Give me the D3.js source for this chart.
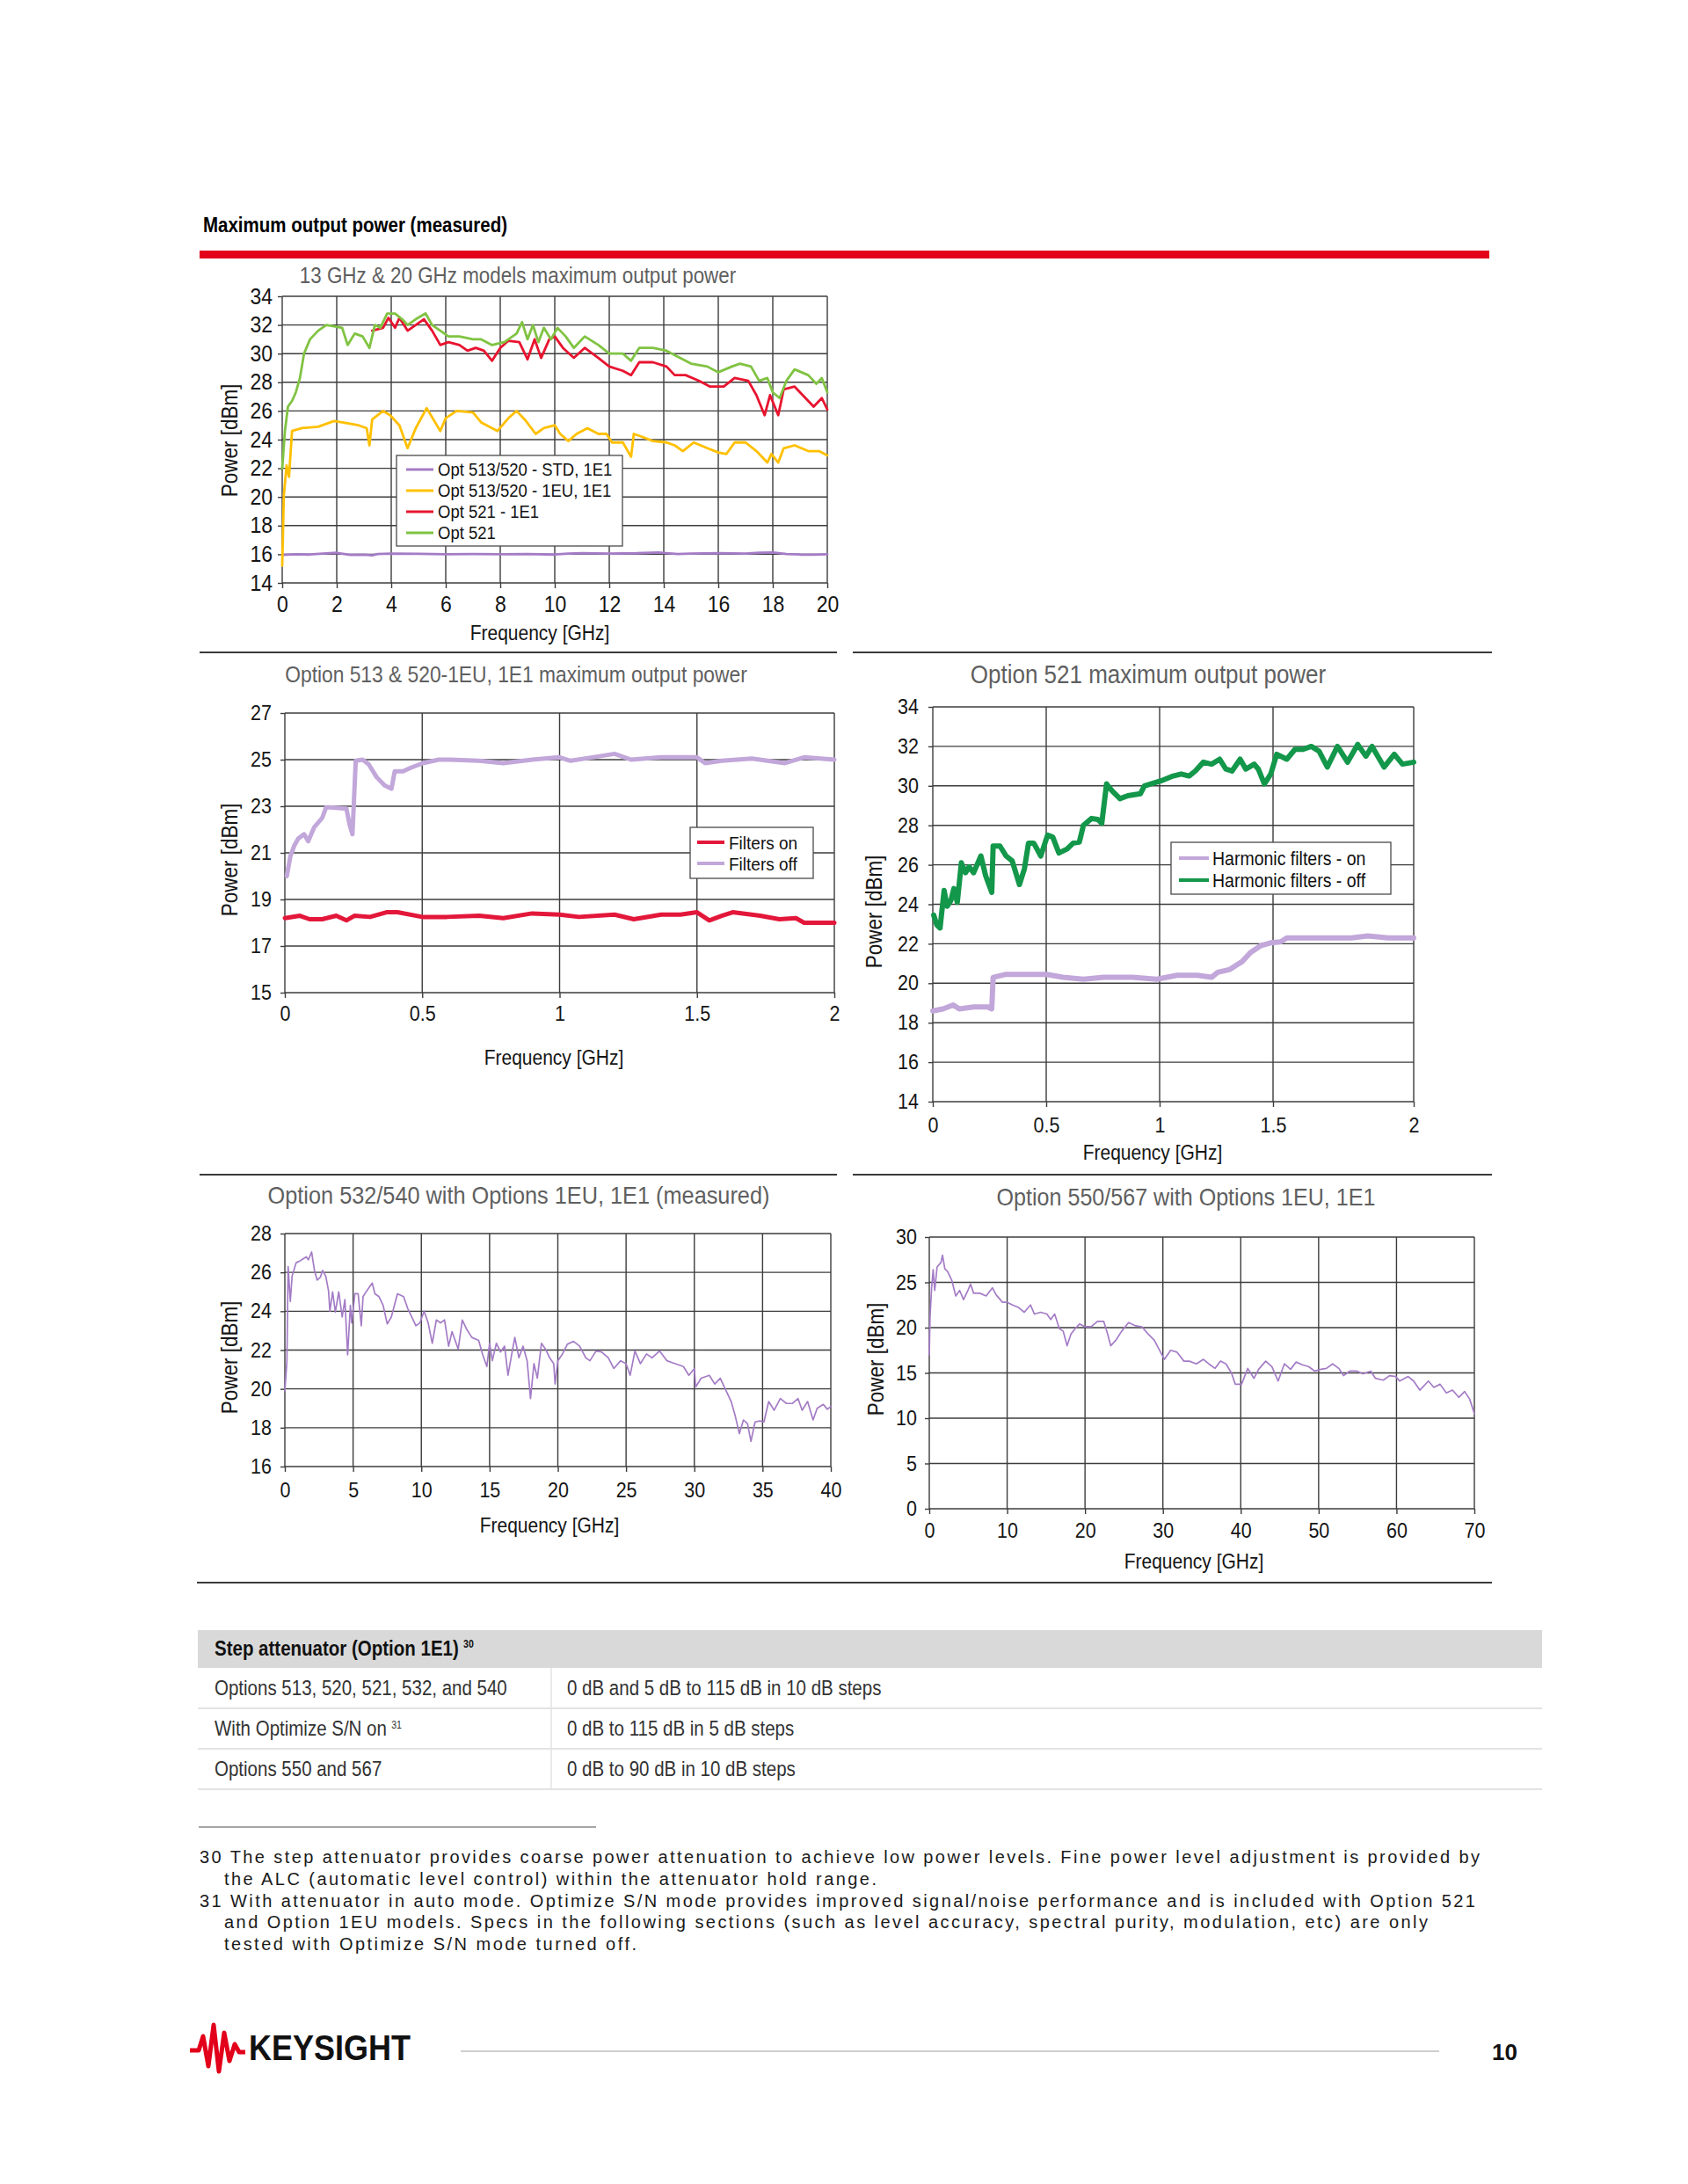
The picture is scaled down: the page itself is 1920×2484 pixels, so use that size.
<!DOCTYPE html>
<html>
<head>
<meta charset="utf-8">
<script src="https://cdn.jsdelivr.net/npm/d3@7/dist/d3.min.js"></script>
<style>
  body { margin: 0; background: #fff; }
  svg { display: block; font-family: "Liberation Sans", Arial, sans-serif; }
</style>
</head>
<body>
<script>
// ---- chart 1: 13 GHz & 20 GHz models ----
var c1XTicks = d3.range(0, 21, 2),
    c1YTicks = d3.range(14, 35, 2);
var c1Names = ["Opt 513/520 - STD, 1E1", "Opt 513/520 - 1EU, 1E1", "Opt 521 - 1E1", "Opt 521"];
var c1Std = [[0,15.95],[0.5,16.0],[1,15.98],[1.5,16.05],[2,16.1],[2.5,15.95],[3,15.97],[3.3,15.93],[3.5,16.02],[4,16.05],[5,16.03],[6,16.0],[7,16.02],[8,16.0],[9,16.02],[10,15.98],[10.5,16.05],[11,16.08],[12,16.05],[13,16.07],[13.8,16.12],[14.5,16.02],[15,16.05],[16,16.08],[17,16.05],[17.5,16.1],[18,16.13],[18.5,16.02],[19,15.98],[19.5,15.97],[20,16.0]];
var c1Eu = [[0,15.2],[0.06,20.1],[0.16,22.2],[0.25,21.4],[0.36,24.6],[0.73,24.8],[1.32,24.9],[1.9,25.3],[2.2,25.2],[2.8,25.0],[3.1,24.8],[3.2,23.6],[3.3,25.4],[3.7,26.0],[3.96,25.7],[4.3,25.0],[4.6,23.4],[4.9,24.8],[5.3,26.2],[5.8,24.6],[6.0,25.5],[6.4,26.0],[7.0,25.9],[7.3,25.2],[7.9,24.6],[8.3,25.5],[8.6,26.0],[8.9,25.4],[9.3,24.4],[9.6,24.8],[10.0,25.0],[10.2,24.4],[10.5,23.9],[10.8,24.4],[11.2,24.8],[11.6,24.4],[11.9,24.4],[12.1,23.8],[12.5,23.8],[12.8,22.8],[12.9,24.4],[13.2,24.2],[13.6,23.9],[14.1,23.8],[14.4,23.6],[14.7,23.2],[15.1,23.8],[15.6,23.4],[16.0,23.1],[16.3,23.0],[16.6,23.8],[17.0,23.8],[17.4,23.2],[17.8,22.4],[17.95,23.0],[18.2,22.4],[18.4,23.4],[18.8,23.6],[19.3,23.2],[19.7,23.2],[20,22.9]];
var c1Opt521E1 = [[3.3,31.6],[3.7,31.8],[3.9,32.5],[4.14,31.8],[4.3,32.5],[4.6,31.6],[4.9,32.0],[5.2,32.4],[5.5,31.6],[5.8,30.6],[6.1,30.8],[6.5,30.6],[6.8,30.2],[7.1,30.4],[7.4,30.2],[7.7,29.5],[8.0,30.4],[8.3,30.9],[8.7,30.8],[9.0,29.6],[9.26,31.0],[9.5,29.7],[9.8,31.0],[10.0,31.2],[10.3,30.4],[10.7,29.7],[11.1,30.4],[11.6,29.7],[12.0,29.1],[12.5,28.8],[12.8,28.5],[13.1,29.4],[13.6,29.4],[14.1,29.1],[14.4,28.5],[14.8,28.5],[15.3,28.1],[15.7,27.7],[16.2,27.7],[16.6,28.3],[17.1,28.1],[17.4,27.1],[17.7,25.7],[17.9,27.1],[18.2,25.7],[18.4,27.5],[18.8,27.7],[19.1,27.1],[19.5,26.3],[19.8,26.9],[20,26.1]];
var c1Opt521 = [[0,22.0],[0.1,24.6],[0.21,26.3],[0.36,26.7],[0.5,27.3],[0.65,28.3],[0.8,30.0],[1.02,31.0],[1.32,31.6],[1.62,32.0],[1.9,31.9],[2.2,31.8],[2.4,30.6],[2.66,31.4],[2.95,31.2],[3.2,30.4],[3.4,32.0],[3.6,31.8],[3.85,32.8],[4.14,32.8],[4.4,32.4],[4.6,32.0],[4.9,32.4],[5.26,32.8],[5.5,32.0],[5.8,31.6],[6.1,31.2],[6.5,31.2],[7.0,31.0],[7.3,31.0],[7.7,30.6],[8.15,30.8],[8.6,31.4],[8.8,32.2],[9.0,31.0],[9.2,32.0],[9.4,30.8],[9.6,31.8],[9.86,31.0],[10.1,31.8],[10.4,31.2],[10.7,30.4],[11.1,31.2],[11.6,30.6],[12.0,30.0],[12.5,30.0],[12.8,29.5],[13.1,30.4],[13.6,30.4],[14.1,30.2],[14.5,29.8],[15.0,29.3],[15.6,29.1],[16.0,28.7],[16.5,29.1],[16.8,29.3],[17.2,29.1],[17.5,28.1],[17.8,28.3],[18.0,27.3],[18.25,26.9],[18.5,28.1],[18.8,28.9],[19.3,28.5],[19.6,27.9],[19.8,28.3],[20,27.3]];

// ---- chart 2: Option 513 & 520-1EU ----
var c2XTicks = [0, 0.5, 1, 1.5, 2],
    c2YTicks = d3.range(15, 28, 2);
var c2Names = ["Filters on", "Filters off"];
var c2On = [[0,18.2],[0.055,18.3],[0.09,18.15],[0.136,18.15],[0.187,18.3],[0.224,18.1],[0.253,18.3],[0.31,18.25],[0.37,18.45],[0.41,18.45],[0.5,18.25],[0.59,18.25],[0.707,18.3],[0.795,18.2],[0.9,18.4],[1.0,18.35],[1.07,18.25],[1.2,18.35],[1.27,18.15],[1.37,18.35],[1.44,18.35],[1.5,18.45],[1.545,18.1],[1.59,18.3],[1.63,18.45],[1.73,18.3],[1.8,18.15],[1.86,18.2],[1.89,18.0],[2.0,18.0]];
var c2Off = [[0.007,20.0],[0.02,20.85],[0.034,21.3],[0.048,21.6],[0.07,21.8],[0.085,21.5],[0.107,22.1],[0.136,22.5],[0.15,22.95],[0.165,22.95],[0.224,22.9],[0.236,22.2],[0.246,21.8],[0.258,24.95],[0.283,25.0],[0.305,24.8],[0.334,24.25],[0.363,23.9],[0.388,23.75],[0.4,24.5],[0.43,24.5],[0.458,24.65],[0.502,24.85],[0.56,25.0],[0.6,25.0],[0.707,24.95],[0.795,24.85],[0.9,25.0],[1.0,25.1],[1.04,24.95],[1.12,25.1],[1.2,25.25],[1.26,25.0],[1.37,25.1],[1.5,25.1],[1.53,24.85],[1.59,24.95],[1.7,25.05],[1.82,24.85],[1.89,25.1],[2.0,25.0]];

// ---- chart 3: Option 521 ----
var c3XTicks = [0, 0.5, 1, 1.5, 2],
    c3YTicks = d3.range(14, 35, 2);
var c3Names = ["Harmonic filters - on", "Harmonic filters - off"];
var c3On = [[0,18.6],[0.045,18.7],[0.09,18.9],[0.117,18.7],[0.18,18.8],[0.242,18.8],[0.26,18.7],[0.266,20.3],[0.323,20.45],[0.395,20.45],[0.502,20.45],[0.574,20.3],[0.664,20.2],[0.754,20.3],[0.88,20.3],[0.987,20.2],[1.077,20.4],[1.166,20.4],[1.229,20.3],[1.256,20.55],[1.31,20.7],[1.337,20.9],[1.364,21.1],[1.4,21.55],[1.445,21.9],[1.49,22.05],[1.527,22.1],[1.549,22.3],[1.578,22.3],[1.621,22.3],[1.693,22.3],[1.779,22.3],[1.837,22.4],[1.909,22.3],[2.0,22.3]];
var c3Off = [[0.004,23.45],[0.018,22.95],[0.032,22.8],[0.05,24.7],[0.063,23.9],[0.08,24.2],[0.093,24.8],[0.108,24.1],[0.126,26.1],[0.144,25.6],[0.16,25.9],[0.18,25.6],[0.212,26.45],[0.233,25.45],[0.26,24.6],[0.266,26.95],[0.296,26.95],[0.323,26.45],[0.35,26.2],[0.382,25.0],[0.404,25.8],[0.422,27.1],[0.445,27.1],[0.476,26.45],[0.506,27.5],[0.529,27.4],[0.556,26.6],[0.592,26.8],[0.619,27.1],[0.646,27.15],[0.664,28.0],[0.7,28.35],[0.727,28.3],[0.745,28.1],[0.766,30.1],[0.79,29.75],[0.825,29.35],[0.86,29.5],[0.915,29.6],[0.933,30.0],[1.005,30.25],[1.06,30.5],[1.095,30.6],[1.13,30.5],[1.157,30.75],[1.193,31.2],[1.229,31.1],[1.265,31.35],[1.292,30.85],[1.319,30.75],[1.355,31.35],[1.38,30.85],[1.417,31.1],[1.435,30.85],[1.462,30.1],[1.49,30.6],[1.513,31.6],[1.549,31.35],[1.578,31.85],[1.607,31.85],[1.636,32.0],[1.664,31.75],[1.693,30.95],[1.729,32.0],[1.765,31.2],[1.801,32.1],[1.83,31.5],[1.852,32.0],[1.895,30.95],[1.931,31.6],[1.96,31.1],[2.0,31.2]];

// ---- chart 4: Option 532/540 ----
var c4XTicks = d3.range(0, 41, 5),
    c4YTicks = d3.range(16, 29, 2);
var c4Line = [[0,19.9],[0.15,21.4],[0.24,26.3],[0.4,24.5],[0.53,25.8],[0.83,26.5],[1.13,26.6],[1.34,26.7],[1.57,26.8],[1.72,26.65],[1.87,26.9],[1.96,27.05],[2.17,26.1],[2.37,25.6],[2.6,25.75],[2.76,26.1],[3.0,25.8],[3.2,25.05],[3.3,24.0],[3.5,25.0],[3.7,23.95],[3.95,25.0],[4.2,23.7],[4.4,24.6],[4.6,21.75],[4.8,24.3],[4.9,23.4],[5.13,24.9],[5.37,24.9],[5.6,23.25],[5.73,24.75],[6.0,25.05],[6.4,25.45],[6.6,24.9],[6.9,24.75],[7.2,24.3],[7.5,23.35],[7.8,23.7],[8.25,24.9],[8.7,24.75],[9.0,24.15],[9.3,23.7],[9.6,23.25],[9.9,23.4],[10.2,24.0],[10.5,23.4],[10.8,22.35],[11.1,23.55],[11.4,23.4],[11.7,23.55],[12.0,22.2],[12.25,22.95],[12.7,22.05],[13.0,23.55],[13.3,23.1],[13.7,22.65],[14.2,22.5],[14.5,21.75],[14.8,21.15],[15.0,22.35],[15.2,21.45],[15.5,22.35],[15.8,21.9],[16.1,22.2],[16.35,20.7],[16.65,21.9],[16.85,22.65],[17.15,21.6],[17.45,22.2],[17.75,21.45],[18.0,19.5],[18.25,21.3],[18.5,20.55],[18.8,22.35],[19.1,22.05],[19.4,21.6],[19.7,21.3],[19.8,20.25],[20.0,21.45],[20.3,21.75],[20.7,22.3],[21.15,22.45],[21.6,22.2],[22.05,21.6],[22.35,21.45],[22.8,21.95],[23.2,21.9],[23.7,21.6],[24.1,21.05],[24.6,21.45],[25.0,21.3],[25.3,20.7],[25.65,21.95],[26.05,21.3],[26.5,21.8],[26.9,21.6],[27.45,21.95],[28.0,21.45],[28.6,21.3],[29.2,21.15],[29.6,20.7],[30.0,21.05],[30.1,20.1],[30.5,20.55],[31.1,20.7],[31.5,20.25],[31.9,20.55],[32.3,19.95],[32.7,19.35],[33.0,18.6],[33.3,17.7],[33.6,18.4],[33.9,18.2],[34.15,17.3],[34.45,18.3],[34.8,18.35],[35.1,18.3],[35.45,19.35],[35.85,18.9],[36.3,19.5],[36.75,19.25],[37.2,19.25],[37.6,19.5],[37.9,18.9],[38.3,19.35],[38.7,18.4],[39.0,19.0],[39.45,19.2],[39.75,18.95],[40.0,19.1]];

// ---- chart 5: Option 550/567 ----
var c5XTicks = d3.range(0, 71, 10),
    c5YTicks = d3.range(0, 31, 5);
var c5Line = [[0,17.0],[0.1,21.2],[0.3,24.4],[0.5,26.4],[0.7,24.1],[1.0,26.7],[1.5,27.2],[1.7,28.0],[2.0,26.5],[2.35,26.2],[2.9,25.2],[3.4,23.5],[3.9,24.1],[4.4,23.1],[4.95,24.1],[5.3,24.8],[5.7,23.8],[6.5,23.8],[7.3,23.5],[8.1,24.4],[8.6,23.6],[9.4,22.8],[10.0,22.8],[10.7,22.5],[11.5,22.2],[12.2,21.7],[13.0,22.5],[13.5,21.5],[14.3,21.7],[15.1,21.5],[15.6,20.9],[16.1,21.5],[16.7,19.9],[17.2,19.6],[17.7,18.0],[18.2,19.3],[18.75,19.9],[19.3,20.4],[20.0,20.1],[20.8,20.1],[21.6,20.7],[22.4,20.7],[22.9,19.3],[23.3,18.0],[23.95,18.6],[24.7,19.6],[25.6,20.55],[26.5,20.2],[27.3,20.1],[28.1,19.3],[28.9,18.6],[29.7,17.3],[30.2,16.5],[31.0,17.5],[31.8,17.3],[32.7,16.3],[33.4,16.3],[34.3,16.0],[35.2,16.5],[35.9,16.0],[36.7,15.5],[37.4,16.3],[38.1,16.0],[38.8,15.0],[39.3,13.75],[40.1,13.75],[40.9,15.5],[41.7,14.4],[42.3,15.4],[43.2,16.3],[44.0,15.7],[44.8,14.1],[45.6,16.0],[46.4,15.4],[47.1,16.2],[47.9,15.9],[48.7,15.7],[49.5,15.2],[50.3,15.4],[51.0,15.5],[51.8,16.0],[52.6,15.5],[53.2,14.7],[54.0,15.2],[54.9,15.2],[55.7,14.9],[56.7,15.2],[57.3,14.4],[58.3,14.2],[59.1,14.7],[59.9,14.6],[60.4,14.1],[61.5,14.6],[62.2,14.1],[63.0,13.1],[64.1,14.1],[64.8,13.4],[65.6,13.75],[66.4,12.8],[67.2,13.1],[68.0,12.3],[68.75,12.95],[69.4,12.1],[70,10.5]];

// ---- table and notes ----
var tableHead = ["Step attenuator (Option 1E1)", "30"];
var tableRows = [
  ["Options 513, 520, 521, 532, and 540", "", "0 dB and 5 dB to 115 dB in 10 dB steps"],
  ["With Optimize S/N on", "31", "0 dB to 115 dB in 5 dB steps"],
  ["Options 550 and 567", "", "0 dB to 90 dB in 10 dB steps"]
];
var footLines = [
  "30 The step attenuator provides coarse power attenuation to achieve low power levels. Fine power level adjustment is provided by",
  "the ALC (automatic level control) within the attenuator hold range.",
  "31 With attenuator in auto mode. Optimize S/N mode provides improved signal/noise performance and is included with Option 521",
  "and Option 1EU models. Specs in the following sections (such as level accuracy, spectral purity, modulation, etc) are only",
  "tested with Optimize S/N mode turned off."
];

var svg = d3.select("body").append("svg")
    .attr("width", 1920)
    .attr("height", 2484);

// chart text is a little condensed in the original: larger size, squeezed horizontally
var SX = 0.9, GROW = 1 / 0.9;

// text placed with a horizontal squeeze
function sqText(parent, x, y, size, sx) {
  return parent.append("text")
      .attr("transform", "translate(" + x + "," + y + ") scale(" + sx + ",1)")
      .style("font-size", size + "px");
}

// page heading and red bar
sqText(svg, 231, 264, 20.5 / 0.86, 0.86)
    .style("font-weight", "bold").attr("fill", "#000")
    .text("Maximum output power (measured)");
svg.append("rect").attr("x", 227).attr("y", 285).attr("width", 1467).attr("height", 9).attr("fill", "#e2001a");

// separators between chart rows
[[227, 952, 742], [970, 1697, 742], [227, 952, 1336], [970, 1697, 1336], [224, 1697, 1800]].forEach(function(s) {
  svg.append("line").attr("x1", s[0]).attr("x2", s[1]).attr("y1", s[2]).attr("y2", s[2])
      .attr("stroke", "#3a3a3a").attr("stroke-width", 2);
});

function drawChart(c) {
  var x = d3.scaleLinear().domain(c.xDomain).range(c.xRange),
      y = d3.scaleLinear().domain(c.yDomain).range([c.bottom, c.top]);
  var left = c.xRange[0], right = c.xRange[c.xRange.length - 1];
  var g = svg.append("g");

  // grid
  g.selectAll(".vg").data(c.xTicks).enter().append("line")
      .attr("x1", function(d) { return x(d); }).attr("x2", function(d) { return x(d); })
      .attr("y1", c.top).attr("y2", c.bottom)
      .attr("stroke", "#3c3c3c").attr("stroke-width", 1.4);
  g.selectAll(".hg").data(c.yTicks).enter().append("line")
      .attr("x1", left).attr("x2", right)
      .attr("y1", function(d) { return y(d); }).attr("y2", function(d) { return y(d); })
      .attr("stroke", "#3c3c3c").attr("stroke-width", 1.4);

  // axes
  var xa = g.append("g")
      .attr("transform", "translate(0," + c.bottom + ")")
      .call(d3.axisBottom(x).tickValues(c.xTicks).tickSize(6).tickPadding(c.xPad).tickFormat(d3.format("")));
  var ya = g.append("g")
      .attr("transform", "translate(" + left + ",0)")
      .call(d3.axisLeft(y).tickValues(c.yTicks).tickSize(5).tickPadding(c.yPad).tickFormat(d3.format("")));
  [xa, ya].forEach(function(a) {
    a.select(".domain").remove();
    a.selectAll("line").attr("stroke", "#3c3c3c").attr("stroke-width", 1.4);
    a.selectAll("text")
        .style("font-size", (c.tickSize * GROW) + "px")
        .style("font-family", "'Liberation Sans', Arial, sans-serif")
        .attr("fill", "#151515")
        .attr("x", function() { return (+this.getAttribute("x") || 0) / SX; })
        .attr("transform", "scale(" + SX + ",1)");
  });

  // titles
  sqText(g, c.titleX, c.titleY, c.titleSize * GROW, SX)
      .attr("text-anchor", "middle").attr("fill", "#5f5f5f").text(c.title);
  sqText(g, c.xLabelX, c.xLabelY, 21 * GROW, SX)
      .attr("text-anchor", "middle").attr("fill", "#151515").text("Frequency [GHz]");
  g.append("text")
      .attr("transform", "translate(" + c.yLabelX + "," + c.yLabelY + ") rotate(-90) scale(" + SX + ",1)")
      .attr("dy", "0.36em").attr("text-anchor", "middle")
      .style("font-size", (22.5 * GROW) + "px").attr("fill", "#151515").text("Power  [dBm]");

  // series
  var line = d3.line()
      .x(function(d) { return x(d[0]); })
      .y(function(d) { return y(d[1]); });
  c.series.forEach(function(s) {
    g.append("path").datum(s.data)
        .attr("fill", "none").attr("stroke", s.color).attr("stroke-width", s.width)
        .attr("stroke-linejoin", "round").attr("stroke-linecap", "round")
        .attr("d", line);
  });

  // legend
  if (c.legend) {
    var L = c.legend;
    g.append("rect").attr("x", L.x).attr("y", L.y).attr("width", L.w).attr("height", L.h)
        .attr("fill", "#fff").attr("stroke", "#4a4a4a").attr("stroke-width", 1.3);
    L.items.forEach(function(it, i) {
      var yy = L.rowY[i];
      g.append("line").attr("x1", L.lx0).attr("x2", L.lx1).attr("y1", yy).attr("y2", yy)
          .attr("stroke", it.color).attr("stroke-width", L.lw);
      sqText(g, L.tx, yy, L.size * GROW, SX)
          .attr("dy", "0.36em").attr("fill", "#111").text(it.name);
    });
  }
}

var purple = "#a47cc6", lav = "#c2a7da";

drawChart({
  title: "13 GHz & 20 GHz models maximum output power", titleX: 589, titleY: 322, titleSize: 22.4,
  xDomain: [0, 20], xRange: [321, 941], top: 337, bottom: 663,
  yDomain: [14, 34], xTicks: c1XTicks, yTicks: c1YTicks, xPad: 9, yPad: 6, tickSize: 23,
  xLabelX: 614, xLabelY: 728, yLabelX: 261, yLabelY: 501,
  series: [
    {data: c1Std, color: purple, width: 2.8},
    {data: c1Eu, color: "#ffc000", width: 2.8},
    {data: c1Opt521E1, color: "#e8142f", width: 2.8},
    {data: c1Opt521, color: "#80c342", width: 2.8}
  ],
  legend: {x: 451, y: 518, w: 257, h: 103, lx0: 462, lx1: 493, tx: 498, lw: 3, size: 18.5,
    rowY: [534, 558, 582, 606],
    items: [{name: c1Names[0], color: purple}, {name: c1Names[1], color: "#ffc000"},
            {name: c1Names[2], color: "#e8142f"}, {name: c1Names[3], color: "#80c342"}]}
});

drawChart({
  title: "Option 513 & 520-1EU, 1E1 maximum output power", titleX: 587, titleY: 776, titleSize: 22.8,
  xDomain: [0, 2], xRange: [324, 949], top: 811, bottom: 1129,
  yDomain: [15, 27], xTicks: c2XTicks, yTicks: c2YTicks, xPad: 9, yPad: 10, tickSize: 21.5,
  xLabelX: 630, xLabelY: 1211, yLabelX: 261, yLabelY: 978,
  series: [
    {data: c2On, color: "#e3173a", width: 5},
    {data: c2Off, color: lav, width: 5}
  ],
  legend: {x: 785, y: 941, w: 140, h: 58, lx0: 793, lx1: 824, tx: 829, lw: 4, size: 19,
    rowY: [958, 982],
    items: [{name: c2Names[0], color: "#e3173a"}, {name: c2Names[1], color: lav}]}
});

drawChart({
  title: "Option 521 maximum output power", titleX: 1306, titleY: 777, titleSize: 26,
  xDomain: [0, 1.5, 2], xRange: [1061, 1448, 1608], top: 804, bottom: 1253,
  yDomain: [14, 34], xTicks: c3XTicks, yTicks: c3YTicks, xPad: 12, yPad: 11, tickSize: 21.5,
  xLabelX: 1311, xLabelY: 1319, yLabelX: 994, yLabelY: 1037,
  series: [
    {data: c3On, color: lav, width: 6},
    {data: c3Off, color: "#13974a", width: 6}
  ],
  legend: {x: 1332, y: 958, w: 250, h: 59, lx0: 1341, lx1: 1375, tx: 1379, lw: 4, size: 19.5,
    rowY: [976, 1001],
    items: [{name: c3Names[0], color: lav}, {name: c3Names[1], color: "#13974a"}]}
});

drawChart({
  title: "Option 532/540 with Options 1EU, 1E1 (measured)", titleX: 590, titleY: 1369, titleSize: 25.3,
  xDomain: [0, 40], xRange: [324, 945], top: 1403, bottom: 1668,
  yDomain: [16, 28], xTicks: c4XTicks, yTicks: c4YTicks, xPad: 12, yPad: 10, tickSize: 21.5,
  xLabelX: 625, xLabelY: 1743, yLabelX: 261, yLabelY: 1544,
  series: [{data: c4Line, color: purple, width: 1.7}]
});

drawChart({
  title: "Option 550/567 with Options 1EU, 1E1", titleX: 1349, titleY: 1371, titleSize: 25.1,
  xDomain: [0, 70], xRange: [1057, 1677], top: 1407, bottom: 1716,
  yDomain: [0, 30], xTicks: c5XTicks, yTicks: c5YTicks, xPad: 10, yPad: 9, tickSize: 21.5,
  xLabelX: 1358, xLabelY: 1784, yLabelX: 996, yLabelY: 1546,
  series: [{data: c5Line, color: purple, width: 1.7}]
});

// ---- step attenuator table ----
var TSX = 0.88, TSIZE = 20.5 / TSX;
svg.append("rect").attr("x", 225).attr("y", 1854).attr("width", 1529).attr("height", 43).attr("fill", "#d9d9d9");
var head = sqText(svg, 244, 1883, TSIZE, TSX)
    .style("font-weight", "bold").attr("fill", "#111");
head.append("tspan").text(tableHead[0]);
head.append("tspan").attr("dx", 6).attr("dy", -9).style("font-size", "12px").text(tableHead[1]);

var rowTop = 1897, rowH = 46;
tableRows.forEach(function(r, i) {
  var cy = rowTop + rowH * i + rowH / 2;
  var t = sqText(svg, 244, cy + 8, TSIZE, TSX).attr("fill", "#333");
  t.append("tspan").text(r[0]);
  if (r[1]) t.append("tspan").attr("dx", 6).attr("dy", -8).style("font-size", "12px").text(r[1]);
  sqText(svg, 645, cy + 8, TSIZE, TSX).attr("fill", "#333").text(r[2]);
  svg.append("line").attr("x1", 225).attr("x2", 1754)
      .attr("y1", rowTop + rowH * (i + 1)).attr("y2", rowTop + rowH * (i + 1))
      .attr("stroke", "#e3e3e3").attr("stroke-width", 2);
});
svg.append("line").attr("x1", 627).attr("x2", 627).attr("y1", rowTop).attr("y2", rowTop + rowH * 3)
    .attr("stroke", "#e3e3e3").attr("stroke-width", 1.5);

// ---- footnotes ----
svg.append("line").attr("x1", 226).attr("x2", 678).attr("y1", 2078).attr("y2", 2078)
    .attr("stroke", "#a6a6a6").attr("stroke-width", 2);
var footX = [227, 255, 227, 255, 255],
    footLen = [1456, 742, 1451, 1369, 469];
footLines.forEach(function(s, i) {
  svg.append("text").attr("x", footX[i]).attr("y", 2119 + i * 24.8)
      .attr("textLength", footLen[i]).attr("lengthAdjust", "spacing")
      .style("font-size", "20px").attr("fill", "#1a1a1a").text(s);
});

// ---- footer ----
svg.append("path")
    .attr("d", "M216,2332 L226,2332 L231,2316 L237,2350 L243,2303 L249,2356 L255,2312 L261,2344 L267,2325 L272,2334 L279,2334")
    .attr("fill", "none").attr("stroke", "#e2001a").attr("stroke-width", 5).attr("stroke-linejoin", "round");
svg.append("text").attr("x", 283).attr("y", 2343).attr("textLength", 184).attr("lengthAdjust", "spacingAndGlyphs")
    .style("font-size", "40px").style("font-weight", "bold").attr("fill", "#111").text("KEYSIGHT");
svg.append("line").attr("x1", 524).attr("x2", 1637).attr("y1", 2333).attr("y2", 2333)
    .attr("stroke", "#cfcfcf").attr("stroke-width", 2);
svg.append("text").attr("x", 1697).attr("y", 2343)
    .style("font-size", "26px").style("font-weight", "bold").attr("fill", "#111").text("10");
</script>
</body>
</html>
